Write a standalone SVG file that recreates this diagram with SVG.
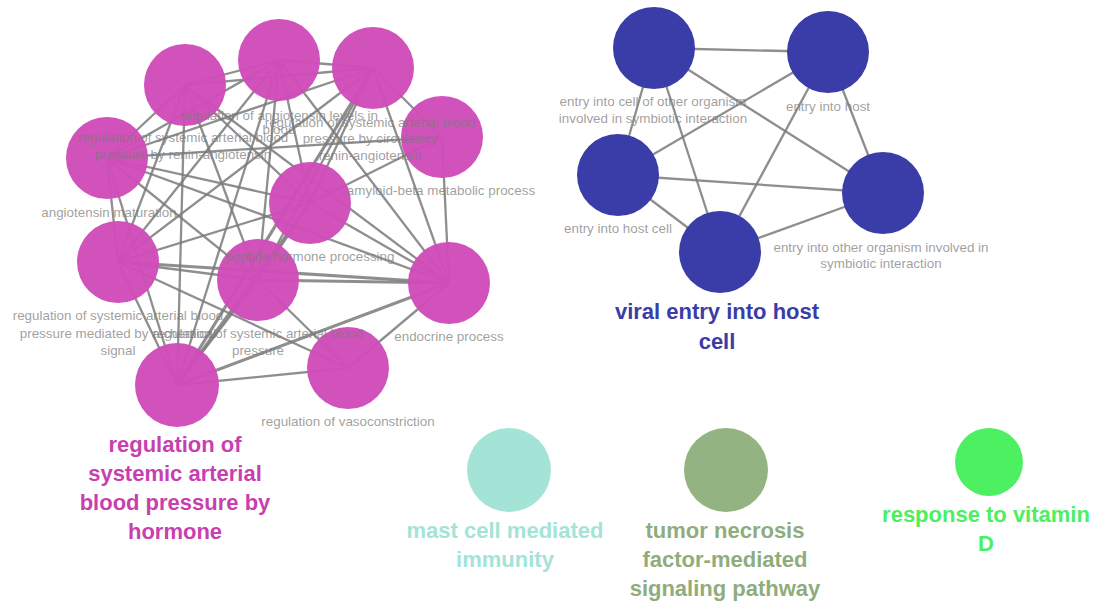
<svg xmlns="http://www.w3.org/2000/svg" width="1099" height="603" viewBox="0 0 1099 603">
<style>
.e{stroke:#7a7a7a;stroke-opacity:0.85;stroke-width:2.3;fill:none}
.t{stroke-width:3.2}
.pk{fill:#d04cb9;fill-opacity:0.97}
.bl{fill:#3a3ca8}
.lb{font-family:"Liberation Sans",Arial,sans-serif;font-size:13.4px;fill:#7a7a7a;fill-opacity:0.72;text-anchor:middle}
.big{font-family:"Liberation Sans",Arial,sans-serif;font-size:22px;font-weight:bold;text-anchor:middle}
</style>
<rect width="1099" height="603" fill="#ffffff"/>
<g id="connectors">
<line class="e" x1="185" y1="85" x2="279" y2="60"/>
<line class="e" x1="185" y1="85" x2="373" y2="68"/>
<line class="e" x1="185" y1="85" x2="107" y2="158"/>
<line class="e" x1="185" y1="85" x2="310" y2="203"/>
<line class="e" x1="185" y1="85" x2="118" y2="262"/>
<line class="e" x1="185" y1="85" x2="258" y2="280"/>
<line class="e" x1="185" y1="85" x2="449" y2="283"/>
<line class="e" x1="185" y1="85" x2="177" y2="385"/>
<line class="e" x1="279" y1="60" x2="373" y2="68"/>
<line class="e" x1="279" y1="60" x2="107" y2="158"/>
<line class="e" x1="279" y1="60" x2="310" y2="203"/>
<line class="e" x1="279" y1="60" x2="118" y2="262"/>
<line class="e" x1="279" y1="60" x2="258" y2="280"/>
<line class="e" x1="279" y1="60" x2="449" y2="283"/>
<line class="e" x1="279" y1="60" x2="177" y2="385"/>
<line class="e" x1="373" y1="68" x2="442" y2="137"/>
<line class="e" x1="373" y1="68" x2="107" y2="158"/>
<line class="e" x1="373" y1="68" x2="310" y2="203"/>
<line class="e" x1="373" y1="68" x2="118" y2="262"/>
<line class="e" x1="373" y1="68" x2="258" y2="280"/>
<line class="e" x1="373" y1="68" x2="449" y2="283"/>
<line class="e t" x1="373" y1="68" x2="177" y2="385"/>
<line class="e" x1="442" y1="137" x2="107" y2="158"/>
<line class="e" x1="442" y1="137" x2="310" y2="203"/>
<line class="e" x1="442" y1="137" x2="449" y2="283"/>
<line class="e" x1="107" y1="158" x2="310" y2="203"/>
<line class="e" x1="107" y1="158" x2="118" y2="262"/>
<line class="e" x1="107" y1="158" x2="258" y2="280"/>
<line class="e" x1="107" y1="158" x2="449" y2="283"/>
<line class="e" x1="107" y1="158" x2="177" y2="385"/>
<line class="e" x1="310" y1="203" x2="118" y2="262"/>
<line class="e" x1="310" y1="203" x2="258" y2="280"/>
<line class="e" x1="310" y1="203" x2="449" y2="283"/>
<line class="e t" x1="310" y1="203" x2="177" y2="385"/>
<line class="e" x1="118" y1="262" x2="258" y2="280"/>
<line class="e t" x1="118" y1="262" x2="449" y2="283"/>
<line class="e" x1="118" y1="262" x2="177" y2="385"/>
<line class="e" x1="118" y1="262" x2="348" y2="368"/>
<line class="e t" x1="258" y1="280" x2="449" y2="283"/>
<line class="e" x1="258" y1="280" x2="177" y2="385"/>
<line class="e" x1="258" y1="280" x2="348" y2="368"/>
<line class="e t" x1="449" y1="283" x2="177" y2="385"/>
<line class="e" x1="449" y1="283" x2="348" y2="368"/>
<line class="e" x1="177" y1="385" x2="348" y2="368"/>
<line class="e" x1="654" y1="48" x2="828" y2="52"/>
<line class="e" x1="654" y1="48" x2="618" y2="175"/>
<line class="e" x1="654" y1="48" x2="720" y2="252"/>
<line class="e" x1="654" y1="48" x2="883" y2="193"/>
<line class="e" x1="828" y1="52" x2="618" y2="175"/>
<line class="e" x1="828" y1="52" x2="720" y2="252"/>
<line class="e" x1="828" y1="52" x2="883" y2="193"/>
<line class="e" x1="618" y1="175" x2="883" y2="193"/>
<line class="e" x1="618" y1="175" x2="720" y2="252"/>
<line class="e" x1="720" y1="252" x2="883" y2="193"/>
</g>
<g id="n-p1"><circle class="pk" cx="185" cy="85" r="41"/></g>
<g id="n-p2"><circle class="pk" cx="279" cy="60" r="41"/></g>
<g id="n-p3"><circle class="pk" cx="373" cy="68" r="41"/></g>
<g id="n-p4"><circle class="pk" cx="442" cy="137" r="41"/></g>
<g id="n-p5"><circle class="pk" cx="107" cy="158" r="41"/></g>
<g id="n-p6"><circle class="pk" cx="310" cy="203" r="41"/></g>
<g id="n-p7"><circle class="pk" cx="118" cy="262" r="41"/></g>
<g id="n-p8"><circle class="pk" cx="258" cy="280" r="41"/></g>
<g id="n-p9"><circle class="pk" cx="449" cy="283" r="41"/></g>
<g id="n-p10"><circle class="pk" cx="177" cy="385" r="42"/></g>
<g id="n-p11"><circle class="pk" cx="348" cy="368" r="41"/></g>
<g id="n-b1"><circle class="bl" cx="654" cy="48" r="41"/></g>
<g id="n-b2"><circle class="bl" cx="828" cy="52" r="41"/></g>
<g id="n-b3"><circle class="bl" cx="618" cy="175" r="41"/></g>
<g id="n-b4"><circle class="bl" cx="883" cy="193" r="41"/></g>
<g id="n-b5"><circle class="bl" cx="720" cy="252" r="41"/></g>
<g id="n-mast"><circle cx="509" cy="470" r="42" fill="#a3e4d7"/>
<text class="big" fill="#a3e4d7" x="505" y="538">mast cell mediated</text>
<text class="big" fill="#a3e4d7" x="505" y="567">immunity</text></g>
<g id="n-tnf"><circle cx="726" cy="470" r="42" fill="#93b382"/>
<text class="big" fill="#8fad7c" x="725" y="538">tumor necrosis</text>
<text class="big" fill="#8fad7c" x="725" y="567">factor-mediated</text>
<text class="big" fill="#8fad7c" x="725" y="596">signaling pathway</text></g>
<g id="n-vitd"><circle cx="989" cy="462" r="34" fill="#4df061"/>
<text class="big" fill="#4cf05e" x="986" y="522">response to vitamin</text>
<text class="big" fill="#4cf05e" x="986" y="551">D</text></g>
<g id="labels">
<text class="lb" x="279" y="120">regulation of angiotensin levels in</text>
<text class="lb" x="279" y="134">blood</text>
<text class="lb" x="370" y="127">regulation of systemic arterial blood</text>
<text class="lb" x="370" y="143">pressure by circulatory</text>
<text class="lb" x="370" y="160">renin-angiotensin</text>
<text class="lb" x="183" y="142">regulation of systemic arterial blood</text>
<text class="lb" x="183" y="159">pressure by renin-angiotensin</text>
<text class="lb" x="441" y="195">amyloid-beta metabolic process</text>
<text class="lb" x="109" y="217">angiotensin maturation</text>
<text class="lb" x="310" y="261">peptide hormone processing</text>
<text class="lb" x="118" y="320">regulation of systemic arterial blood</text>
<text class="lb" x="118" y="338">pressure mediated by a chemical</text>
<text class="lb" x="118" y="355">signal</text>
<text class="lb" x="258" y="338">regulation of systemic arterial blood</text>
<text class="lb" x="258" y="355">pressure</text>
<text class="lb" x="449" y="341">endocrine process</text>
<text class="lb" x="348" y="426">regulation of vasoconstriction</text>
<text class="lb" x="653" y="106">entry into cell of other organism</text>
<text class="lb" x="653" y="123">involved in symbiotic interaction</text>
<text class="lb" x="828" y="111">entry into host</text>
<text class="lb" x="618" y="233">entry into host cell</text>
<text class="lb" x="881" y="252">entry into other organism involved in</text>
<text class="lb" x="881" y="268">symbiotic interaction</text>
<text class="big" fill="#c83fb0" x="175" y="452">regulation of</text>
<text class="big" fill="#c83fb0" x="175" y="481">systemic arterial</text>
<text class="big" fill="#c83fb0" x="175" y="510">blood pressure by</text>
<text class="big" fill="#c83fb0" x="175" y="539">hormone</text>
<text class="big" fill="#3a3ca8" x="717" y="319">viral entry into host</text>
<text class="big" fill="#3a3ca8" x="717" y="349">cell</text>
</g>
</svg>
